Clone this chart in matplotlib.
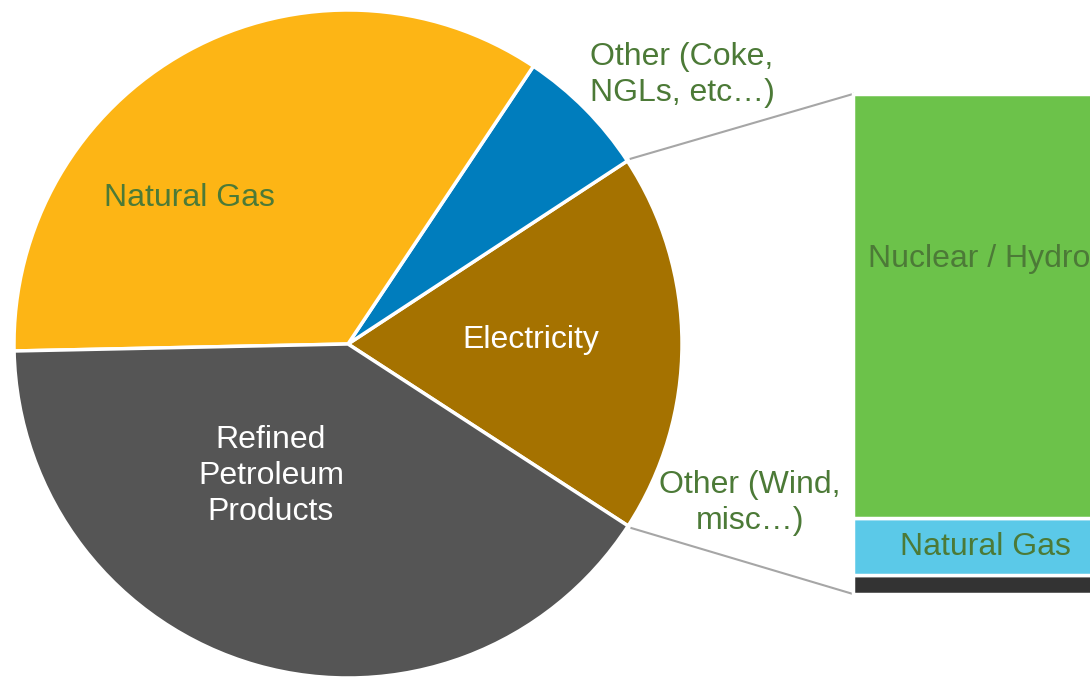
import numpy as np
import matplotlib
matplotlib.use("Agg")
import matplotlib.pyplot as plt

plt.rcParams['font.family'] = ['Liberation Sans', 'DejaVu Sans']

# Pie data (percent share)
pie_labels = ["Electricity", "Other (Coke,\nNGLs, etc…)", "Natural Gas", "Refined\nPetroleum\nProducts"]
pie_values = [18.4, 6.4, 34.7, 40.5]
pie_colors = ["#A57200", "#007DBD", "#FDB515", "#555555"]

# Breakdown of electricity (bar of pie), bottom to top
bar_labels = ["Other (Wind,\nmisc…)", "Natural Gas", "Nuclear / Hydro"]
bar_values = [3.8, 11.4, 84.8]
bar_colors = ["#333333", "#5BC9E8", "#6CC24A"]

W, H = 1090, 677
fig = plt.figure(figsize=(W / 100, H / 100), dpi=100)
ax = fig.add_axes([0, 0, 1, 1])

cx, cy, R = 348, H - 344, 334
start = -33.0
wedges, _ = ax.pie(pie_values, colors=pie_colors, startangle=start, counterclock=True,
                   center=(cx, cy), radius=R, frame=True,
                   wedgeprops=dict(edgecolor='white', linewidth=2.5))
ax.set_xlim(0, W)
ax.set_ylim(0, H)
ax.set_aspect('equal')
ax.axis('off')

# Bar of pie
bx, btop, bh, bw = 853, H - 94, 500, 320
total = sum(bar_values)
bottom = btop - bh
for v, c in zip(bar_values, bar_colors):
    h = v / total * bh
    ax.bar(bx, h, bottom=bottom, width=bw, align='edge', color=c,
           edgecolor='white', linewidth=2.5, zorder=2)
    bottom += h
ax.plot([bx, bx, bx + bw], [btop - bh, btop, btop], color='#D0D0D0', lw=0.8, zorder=1)

# Connector lines from electricity wedge boundaries to bar corners
a1 = np.deg2rad(start)
a2 = np.deg2rad(start + pie_values[0] * 3.6)
r2 = R + 4
ax.plot([cx + r2 * np.cos(a2), bx], [cy + r2 * np.sin(a2), btop], color='#A6A6A6', lw=1.5, zorder=1)
ax.plot([cx + r2 * np.cos(a1), bx], [cy + r2 * np.sin(a1), btop - bh], color='#A6A6A6', lw=1.5, zorder=1)

fs = 23
ls = 1.25
green = '#4C7A37'
ax.text(189, H - 198, pie_labels[2], color=green, fontsize=fs, ha='center', va='center')
ax.text(531, H - 340, pie_labels[0], color='white', fontsize=fs, ha='center', va='center')
ax.text(271, H - 476, pie_labels[3], color='white', fontsize=fs, ha='center', va='center',
        linespacing=ls)
ax.text(682, H - 75, pie_labels[1], color=green, fontsize=fs, ha='center', va='center',
        linespacing=ls)
ax.text(750, H - 503, bar_labels[0], color=green, fontsize=fs, ha='center', va='center',
        linespacing=ls)
ax.text(868, H - 259, bar_labels[2], color=green, fontsize=fs, ha='left', va='center')
ax.text(985, H - 547, bar_labels[1], color=green, fontsize=fs, ha='center', va='center')

fig.savefig('out.png', dpi=100)
